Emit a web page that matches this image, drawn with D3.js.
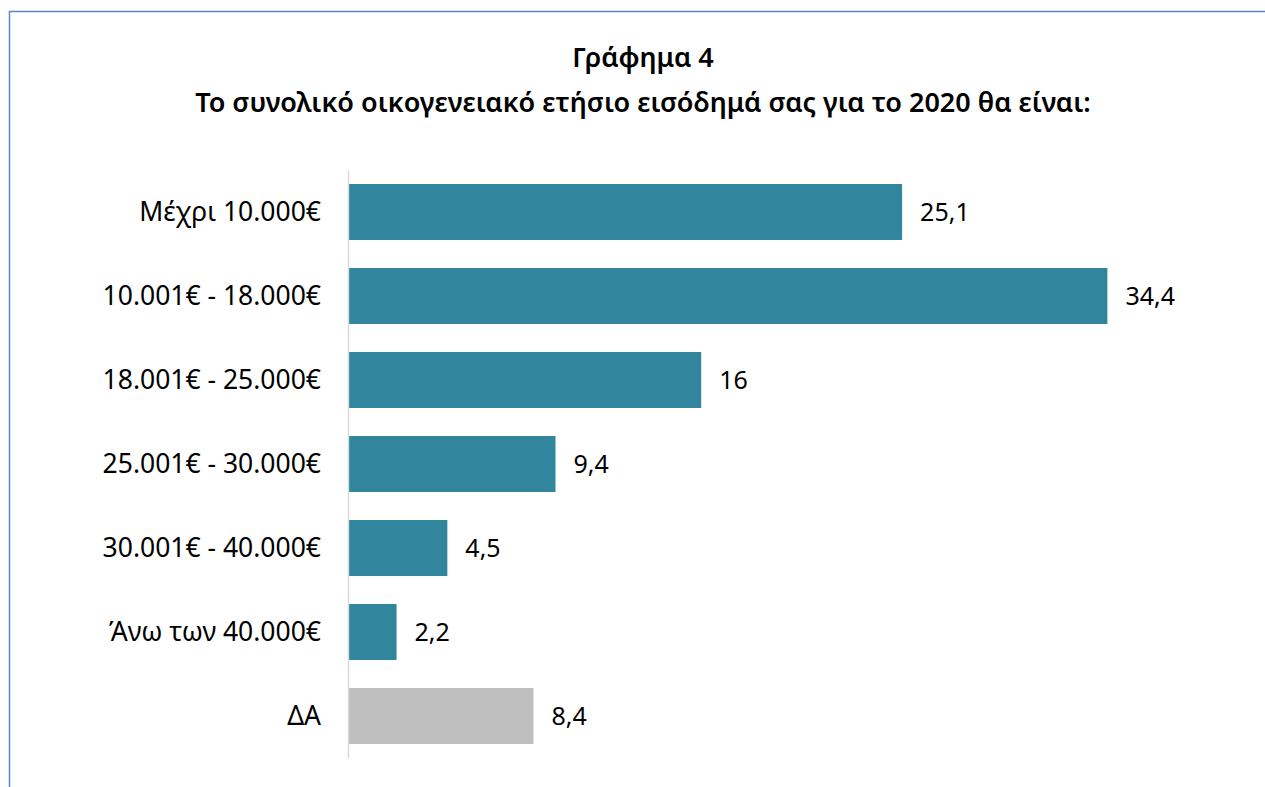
<!DOCTYPE html>
<html>
<head>
<meta charset="utf-8">
<script src="https://cdn.jsdelivr.net/npm/d3@7"></script>
<style>
  html, body { margin: 0; padding: 0; background: #fff; }
  svg { display: block; }
</style>
</head>
<body>
<div id="chart"></div>
<script>
// Γράφημα 4 - ετήσιο οικογενειακό εισόδημα 2020
var titleLines = ["Γράφημα 4", "Το συνολικό οικογενειακό ετήσιο εισόδημά σας για το 2020 θα είναι:"];
var categories = ["Μέχρι 10.000€", "10.001€ - 18.000€", "18.001€ - 25.000€", "25.001€ - 30.000€", "30.001€ - 40.000€", "Άνω των 40.000€", "ΔΑ"];
var values = [25.1, 34.4, 16, 9.4, 4.5, 2.2, 8.4];
var valueLabels = ["25,1", "34,4", "16", "9,4", "4,5", "2,2", "8,4"];

var width = 1265, height = 787;
var font = "'Noto Sans', 'Open Sans', sans-serif";
var teal = "#31859c", grey = "#bfbfbf";

var svg = d3.select("#chart").append("svg")
    .attr("width", width)
    .attr("height", height);

// cadre du graphique
svg.append("path")
    .attr("d", "M9.5," + height + "V11.5H" + width)
    .attr("fill", "none")
    .attr("stroke", "#5b87c5")
    .attr("stroke-width", 1.5);

// titre
svg.selectAll(".title").data(titleLines).enter().append("text")
    .attr("class", "title")
    .attr("x", 643)
    .attr("y", (d, i) => 67 + i * 45)
    .attr("text-anchor", "middle")
    .attr("font-family", font)
    .attr("font-weight", 600)
    .attr("font-size", 27)
    .attr("fill", "#000")
    .text(d => d);

var x = d3.scaleLinear()
    .domain([0, 40])
    .range([348, 1231]);

var y = d3.scaleBand()
    .domain(categories)
    .range([170, 758])
    .paddingInner(1 / 3)
    .paddingOuter(1 / 6);

// barres
svg.selectAll(".bar").data(values).enter().append("rect")
    .attr("class", "bar")
    .attr("x", x(0))
    .attr("y", (d, i) => y(categories[i]))
    .attr("width", d => x(d) - x(0))
    .attr("height", y.bandwidth())
    .attr("fill", (d, i) => categories[i] == "ΔΑ" ? grey : teal);

// axe vertical
var axis = svg.append("g")
    .attr("transform", "translate(" + x(0) + ",0)")
    .call(d3.axisLeft(y).tickSize(0).tickPadding(27));
axis.select(".domain")
    .attr("stroke", "#d9d9d9")
    .attr("stroke-width", 1.5);
axis.selectAll("text")
    .attr("font-family", font)
    .attr("font-size", 26.5)
    .attr("dy", "0.33em")
    .attr("fill", "#000");

// étiquettes de valeurs
svg.selectAll(".val").data(values).enter().append("text")
    .attr("class", "val")
    .attr("x", d => x(d) + 18)
    .attr("y", (d, i) => y(categories[i]) + y.bandwidth() / 2)
    .attr("dy", "0.36em")
    .attr("font-family", font)
    .attr("font-size", 25)
    .attr("fill", "#000")
    .text((d, i) => valueLabels[i]);
</script>
</body>
</html>
